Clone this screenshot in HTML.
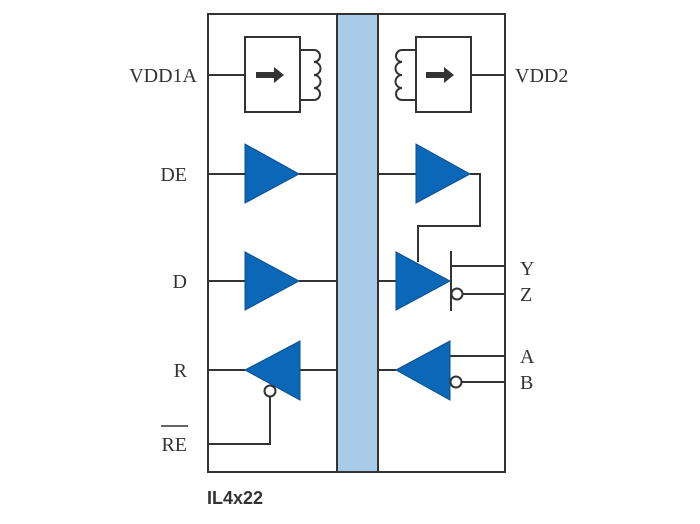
<!DOCTYPE html>
<html><head><style>body{margin:0;background:#fff}</style></head><body>
<svg width="700" height="524" xmlns="http://www.w3.org/2000/svg" style="display:block">
<g fill="none" stroke="#333" stroke-width="2">
<rect x="337" y="14" width="41" height="458" fill="#a9cbea" stroke="#333"/>
<rect x="208" y="14" width="297" height="458"/>
<rect x="245" y="37" width="55" height="75"/>
<rect x="416" y="37" width="55" height="75"/>
<path d="M208 75H245M471 75H505"/>
<path d="M300 50h14a6 6 0 0 1 0 12a6 6 0 0 1 0 13a6 6 0 0 1 0 13a6 6 0 0 1 0 12h-14"/>
<path d="M416 50h-14a6 6 0 0 0 0 12a6 6 0 0 0 0 13a6 6 0 0 0 0 13a6 6 0 0 0 0 12h14"/>
<path d="M208 174H245M299 174H337M378 174H416M470 174H480V226H418V262"/>
<path d="M208 281H245M299 281H337M378 281H396M451 251V311M451 266H505M463 294H505"/>
<path d="M208 370H245M300 370H337M378 370H396M450 356H505M462 382H505"/>
<path d="M270 397V444H208"/>
</g>
<g fill="#333"><path d="M256 72h18v-5l10 8l-10 8v-5h-18z"/><path d="M426 72h18v-5l10 8l-10 8v-5h-18z"/></g>
<g fill="#0b67b8" stroke="#0b4f8f" stroke-width="1">
<path d="M245 144L299 174L245 203Z"/>
<path d="M416 144L470 174L416 203Z"/>
<path d="M245 252L299 281L245 310Z"/>
<path d="M396 252L450 281L396 310Z"/>
<path d="M245 370L300 341L300 400Z"/>
<path d="M396 370L450 341L450 400Z"/>
</g>
<g fill="#fff" stroke="#333" stroke-width="2">
<circle cx="457" cy="294" r="5.5"/><circle cx="456" cy="382" r="5.5"/><circle cx="270" cy="391" r="5.5"/>
</g>
<g font-family="Liberation Serif,serif" font-size="20" fill="#333">
<text x="197" y="82" text-anchor="end">VDD1A</text>
<text x="187" y="181" text-anchor="end">DE</text>
<text x="187" y="288" text-anchor="end">D</text>
<text x="187" y="377" text-anchor="end">R</text>
<text x="187" y="451" text-anchor="end">RE</text>
<text x="515" y="82">VDD2</text>
<text x="520" y="275">Y</text>
<text x="520" y="301">Z</text>
<text x="520" y="363">A</text>
<text x="520" y="389">B</text>
</g>
<path d="M161 426H188" stroke="#333" stroke-width="1.5"/>
<text x="207" y="504" font-family="Liberation Sans,sans-serif" font-weight="bold" font-size="18" fill="#333">IL4x22</text>
</svg>
</body></html>
